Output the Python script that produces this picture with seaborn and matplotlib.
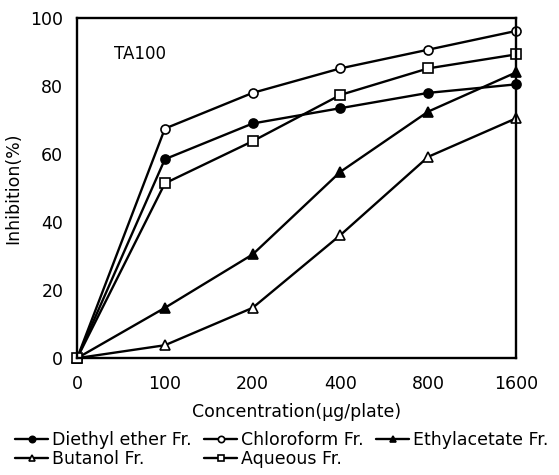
"""
TA100 inhibition by solvent fractions
"""
import pandas as pd
import matplotlib.pyplot as plt
import seaborn as sns

# x categories (equally spaced on the axis)
concentrations = ["0", "100", "200", "400", "800", "1600"]

diethyl_ether = [0, 58.5, 69, 73.5, 78, 80.5]
chloroform = [0, 67.5, 78, 85.2, 90.7, 96.2]
ethylacetate = [0, 14.8, 30.5, 54.8, 72.5, 84]
butanol = [0, 3.8, 14.8, 36.2, 59.2, 70.5]
aqueous = [0, 51.4, 63.8, 77.4, 85.2, 89.3]

series_names = ["Diethyl ether Fr.", "Chloroform Fr.", "Ethylacetate Fr.",
                "Butanol Fr.", "Aqueous Fr."]
series_values = [diethyl_ether, chloroform, ethylacetate, butanol, aqueous]

sns.set_style("white")
plt.rcParams['font.family'] = ['DejaVu Sans']
plt.rcParams['text.color'] = 'black'
plt.rcParams['axes.labelcolor'] = 'black'
plt.rcParams['xtick.color'] = 'black'
plt.rcParams['ytick.color'] = 'black'

fig = plt.figure(figsize=(5.59, 4.75), dpi=100)
ax = fig.add_axes([0.138, 0.246, 0.785, 0.716])

# marker, filled?
styles = {
    "Diethyl ether Fr.": ("o", True),
    "Chloroform Fr.": ("o", False),
    "Ethylacetate Fr.": ("^", True),
    "Butanol Fr.": ("^", False),
    "Aqueous Fr.": ("s", False),
}

df = pd.DataFrame({
    "pos": list(range(len(concentrations))) * len(series_names),
    "value": [v for vals in series_values for v in vals],
    "series": [n for n in series_names for _ in concentrations],
})

for name in series_names:
    sub = df[df["series"] == name]
    marker, filled = styles[name]
    sns.lineplot(data=sub, x="pos", y="value", ax=ax, color="black",
                 linewidth=1.7, marker=marker, markersize=6.5,
                 markerfacecolor="black" if filled else "white",
                 markeredgecolor="black", markeredgewidth=1.2,
                 label=name, clip_on=False)

ax.set_xlim(0, len(concentrations) - 1)
ax.set_ylim(0, 100)
ax.set_xticks(range(len(concentrations)))
ax.set_xticklabels(concentrations)
ax.set_yticks([0, 20, 40, 60, 80, 100])
ax.tick_params(axis="both", direction="in", length=3, width=1,
               labelsize=12.5)
ax.tick_params(axis="x", pad=12)
ax.tick_params(axis="y", pad=10)
for sp in ax.spines.values():
    sp.set_color("black")
    sp.set_linewidth(1.7)

ax.set_xlabel("Concentration(\u03bcg/plate)", fontsize=12.5, labelpad=7)
ax.set_ylabel("Inhibition(%)", fontsize=12.5, labelpad=6)
ax.text(0.083, 0.88, "TA100", transform=ax.transAxes, fontsize=12)

# legend, row-wise order across 3 columns
handles, labels = ax.get_legend_handles_labels()
ax.get_legend().remove()
order = [0, 3, 1, 4, 2]
fig.legend([handles[i] for i in order], [labels[i] for i in order],
           loc="upper left", bbox_to_anchor=(0.027, 0.093), ncol=3,
           frameon=False, fontsize=12.5, handlelength=1.9, handletextpad=0.2,
           columnspacing=0.75, labelspacing=0.05, borderaxespad=0, borderpad=0,
           markerscale=0.7)

fig.savefig("out.png", dpi=100)
plt.close(fig)
